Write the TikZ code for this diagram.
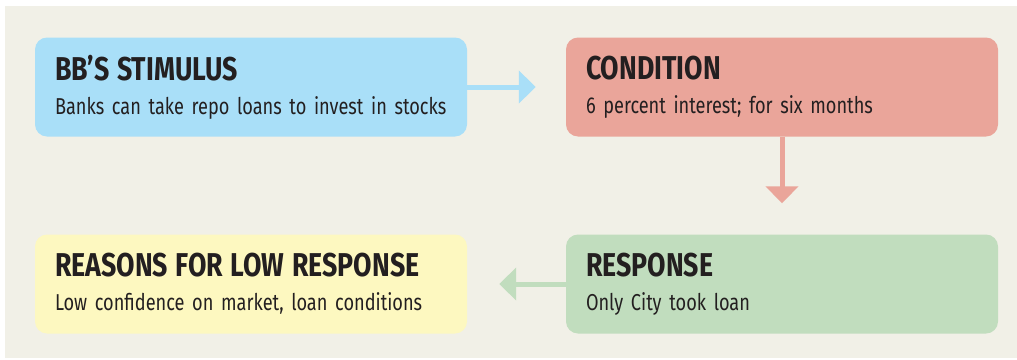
\documentclass[tikz,border=0pt]{standalone}
\usepackage{fontspec}
\setmainfont{Fira Sans}[FakeStretch=0.79,BoldFeatures={FakeStretch=0.81}]
\usepackage{tikz}
\usetikzlibrary{arrows.meta,positioning}

\definecolor{bgpaper}{HTML}{F1F0E7}
\definecolor{bbblue}{HTML}{A9DFF8}
\definecolor{bbred}{HTML}{EAA59A}
\definecolor{bbgreen}{HTML}{C1DDBE}
\definecolor{bbyellow}{HTML}{FDF8C0}
\definecolor{inkdark}{HTML}{231F20}

\newcommand{\boxhead}[1]{{\bfseries\fontsize{33}{34}\selectfont #1}}

\begin{document}
\begin{tikzpicture}[x=1pt,y=-1pt,
    infobox/.style={rectangle,rounded corners=12pt,text width=392pt,inner xsep=20pt,inner ysep=0pt,
      minimum height=99pt,align=left,text=inkdark,font=\fontsize{23}{34}\selectfont},
    flow/.style={line width=5pt,-{Triangle[length=17pt,width=32pt]}},
   ]

    \useasboundingbox (0,0) rectangle (1017,359);
    \fill[bgpaper] (5,6) rectangle (1017,358);

    \node (stimulus)  [infobox, fill=bbblue]   at (251,87)  { \boxhead{BB’S STIMULUS}\\Banks can take repo loans to invest in stocks };
    \node (condition) [infobox, fill=bbred]    at (782,87)  { \boxhead{CONDITION}\\6 percent interest; for six months };
    \node (response)  [infobox, fill=bbgreen]  at (782,284) { \boxhead{RESPONSE}\\Only City took loan };
    \node (reasons)   [infobox, fill=bbyellow] at (251,284) { \boxhead{REASONS FOR LOW RESPONSE}\\Low confidence on market, loan conditions };

    \draw[flow, bbblue]  (stimulus.east)   -- (condition.west) [shorten >=30pt];
    \draw[flow, bbred]   (condition.south) -- (response.north) [shorten >=31pt];
    \draw[flow, bbgreen] (response.west)   -- (reasons.east)   [shorten >=32pt];
  \end{tikzpicture}
\end{document}
